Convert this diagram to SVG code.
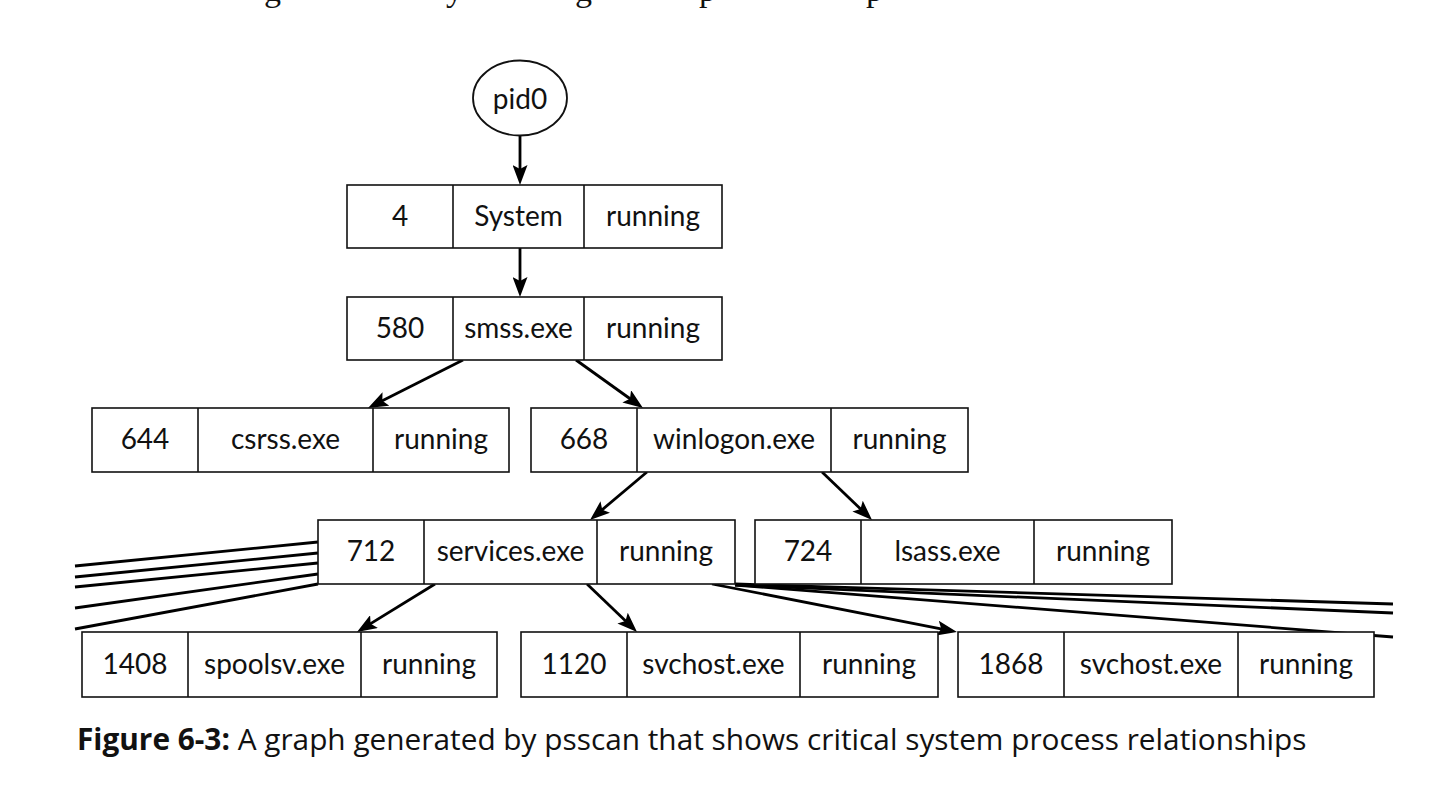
<svg xmlns="http://www.w3.org/2000/svg" width="1440" height="792" viewBox="0 0 1440 792">
<style>
.cell{fill:#fff;stroke:#111;stroke-width:1.6}
.div{stroke:#111;stroke-width:1.6}
.t{font-family:Lato,"Open Sans","Liberation Sans",sans-serif;font-size:28px;fill:#111;text-anchor:middle}
.e{stroke:#000;stroke-width:2.8;fill:none}
.cap{font-family:"Open Sans","Liberation Sans",sans-serif;font-size:29.8px;fill:#111}
</style>
<defs>
<marker id="ah" markerUnits="userSpaceOnUse" markerWidth="20" markerHeight="15" viewBox="0 0 20 15" refX="14" refY="7.5" orient="auto">
<path d="M0,0 L20,7.5 L0,15 L4,7.5 z" fill="#000"/>
</marker>
</defs>
<rect width="1440" height="792" fill="#fff"/>
<text font-family="Liberation Serif,serif" font-size="34" fill="#111" y="1"><tspan x="264">g</tspan><tspan x="446">y</tspan><tspan x="575">g</tspan><tspan x="699">p</tspan><tspan x="866">p</tspan></text>

<g id="connectors">
<line class="e" x1="520" y1="136" x2="520" y2="179" marker-end="url(#ah)"/>
<line class="e" x1="520" y1="248" x2="520" y2="291" marker-end="url(#ah)"/>
<line class="e" x1="463" y1="360" x2="373.4" y2="405.3" marker-end="url(#ah)"/>
<line class="e" x1="576" y1="360" x2="638.1" y2="404.5" marker-end="url(#ah)"/>
<line class="e" x1="647" y1="472" x2="594.6" y2="516.1" marker-end="url(#ah)"/>
<line class="e" x1="822" y1="472" x2="867.7" y2="515.8" marker-end="url(#ah)"/>
<line class="e" x1="435" y1="584" x2="362.1" y2="628.9" marker-end="url(#ah)"/>
<line class="e" x1="587" y1="584" x2="632.7" y2="627.8" marker-end="url(#ah)"/>
<line class="e" x1="712" y1="584" x2="951.1" y2="630.8" marker-end="url(#ah)"/>
<path class="e" d="M735,584 Q1000,592 1393,604"/>
<path class="e" d="M735,585 Q1000,596 1393,613"/>
<path class="e" d="M735,585 L1393,637"/>
<path class="e" d="M318,542 L75,566"/>
<path class="e" d="M318,553 L75,577"/>
<path class="e" d="M318,563 L75,587"/>
<path class="e" d="M318,574 L75,608"/>
<path class="e" d="M318,584 L75,629"/>
</g>

<g id="pid0">
<ellipse cx="520" cy="98" rx="47" ry="37.5" fill="#fff" stroke="#111" stroke-width="1.8"/>
<text class="t" x="520" y="109">pid0</text>
</g>

<g id="p4">
<rect class="cell" x="347" y="185" width="375" height="63"/>
<line class="div" x1="453" y1="185" x2="453" y2="248"/><line class="div" x1="584" y1="185" x2="584" y2="248"/>
<text class="t" x="400" y="226">4</text><text class="t" x="518.5" y="226">System</text><text class="t" x="653" y="226">running</text>
</g>

<g id="p580">
<rect class="cell" x="347" y="297" width="375" height="63"/>
<line class="div" x1="453" y1="297" x2="453" y2="360"/><line class="div" x1="584" y1="297" x2="584" y2="360"/>
<text class="t" x="400" y="338">580</text><text class="t" x="518.5" y="338">smss.exe</text><text class="t" x="653" y="338">running</text>
</g>

<g id="p644">
<rect class="cell" x="92" y="408" width="417" height="64"/>
<line class="div" x1="198" y1="408" x2="198" y2="472"/><line class="div" x1="373" y1="408" x2="373" y2="472"/>
<text class="t" x="145" y="449">644</text><text class="t" x="285.5" y="449">csrss.exe</text><text class="t" x="441" y="449">running</text>
</g>

<g id="p668">
<rect class="cell" x="531" y="408" width="437" height="64"/>
<line class="div" x1="637" y1="408" x2="637" y2="472"/><line class="div" x1="831" y1="408" x2="831" y2="472"/>
<text class="t" x="584" y="449">668</text><text class="t" x="734" y="449">winlogon.exe</text><text class="t" x="899.5" y="449">running</text>
</g>

<g id="p712">
<rect class="cell" x="318" y="520" width="417" height="64"/>
<line class="div" x1="424" y1="520" x2="424" y2="584"/><line class="div" x1="597" y1="520" x2="597" y2="584"/>
<text class="t" x="371" y="561">712</text><text class="t" x="510.5" y="561">services.exe</text><text class="t" x="666" y="561">running</text>
</g>

<g id="p724">
<rect class="cell" x="755" y="520" width="417" height="64"/>
<line class="div" x1="861" y1="520" x2="861" y2="584"/><line class="div" x1="1034" y1="520" x2="1034" y2="584"/>
<text class="t" x="808" y="561">724</text><text class="t" x="947.5" y="561">lsass.exe</text><text class="t" x="1103" y="561">running</text>
</g>

<g id="p1408">
<rect class="cell" x="82" y="632" width="415" height="65"/>
<line class="div" x1="188" y1="632" x2="188" y2="697"/><line class="div" x1="361" y1="632" x2="361" y2="697"/>
<text class="t" x="135" y="674">1408</text><text class="t" x="274.5" y="674">spoolsv.exe</text><text class="t" x="429" y="674">running</text>
</g>

<g id="p1120">
<rect class="cell" x="521" y="632" width="417" height="65"/>
<line class="div" x1="627" y1="632" x2="627" y2="697"/><line class="div" x1="800" y1="632" x2="800" y2="697"/>
<text class="t" x="574" y="674">1120</text><text class="t" x="713.5" y="674">svchost.exe</text><text class="t" x="869" y="674">running</text>
</g>

<g id="p1868">
<rect class="cell" x="958" y="632" width="416" height="65"/>
<line class="div" x1="1064" y1="632" x2="1064" y2="697"/><line class="div" x1="1238" y1="632" x2="1238" y2="697"/>
<text class="t" x="1011" y="674">1868</text><text class="t" x="1151" y="674">svchost.exe</text><text class="t" x="1306" y="674">running</text>
</g>

<text class="cap" x="77" y="750"><tspan font-weight="bold">Figure 6-3:</tspan><tspan>  A graph generated by psscan that shows critical system process relationships</tspan></text>
</svg>
